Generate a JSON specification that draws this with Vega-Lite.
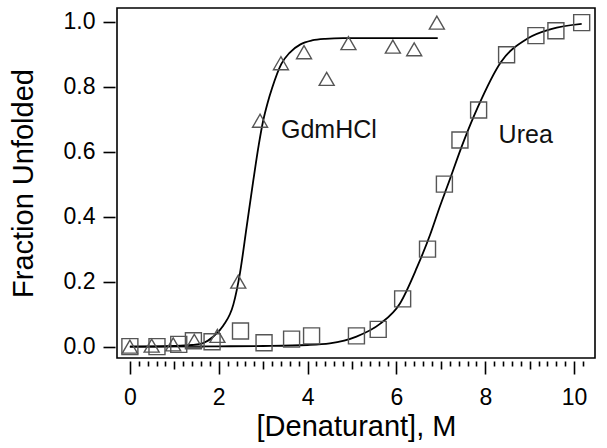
{
  "$schema": "https://vega.github.io/schema/vega-lite/v6.json",
  "width": 478,
  "height": 350,
  "autosize": {"type": "none"},
  "padding": {"left": 117, "top": 8, "right": 12, "bottom": 90},
  "background": "white",
  "config": {
    "view": {"stroke": "black", "strokeWidth": 1.6},
    "axis": {
      "grid": false,
      "domain": false,
      "tickColor": "black",
      "tickWidth": 1.6,
      "labelFont": "Liberation Sans",
      "labelFontSize": 23,
      "labelColor": "black",
      "titleFont": "Liberation Sans",
      "titleFontSize": 29,
      "titleFontWeight": "normal",
      "titleColor": "black"
    }
  },
  "datasets": {
    "points": [
      {"series": "GdmHCl", "conc": 0.0, "frac": 0.0},
      {"series": "GdmHCl", "conc": 0.49, "frac": 0.003},
      {"series": "GdmHCl", "conc": 0.975, "frac": 0.007},
      {"series": "GdmHCl", "conc": 1.45, "frac": 0.018},
      {"series": "GdmHCl", "conc": 1.97, "frac": 0.033},
      {"series": "GdmHCl", "conc": 2.44, "frac": 0.2},
      {"series": "GdmHCl", "conc": 2.93, "frac": 0.695},
      {"series": "GdmHCl", "conc": 3.4, "frac": 0.872},
      {"series": "GdmHCl", "conc": 3.92, "frac": 0.906},
      {"series": "GdmHCl", "conc": 4.43, "frac": 0.824},
      {"series": "GdmHCl", "conc": 4.92, "frac": 0.934},
      {"series": "GdmHCl", "conc": 5.92, "frac": 0.923},
      {"series": "GdmHCl", "conc": 6.4, "frac": 0.915},
      {"series": "GdmHCl", "conc": 6.91, "frac": 0.997},
      {"series": "Urea", "conc": 0.0, "frac": 0.0},
      {"series": "Urea", "conc": 0.61, "frac": 0.0},
      {"series": "Urea", "conc": 1.1, "frac": 0.007},
      {"series": "Urea", "conc": 1.43, "frac": 0.018},
      {"series": "Urea", "conc": 1.85, "frac": 0.015},
      {"series": "Urea", "conc": 2.49, "frac": 0.048},
      {"series": "Urea", "conc": 3.02, "frac": 0.012},
      {"series": "Urea", "conc": 3.64, "frac": 0.023},
      {"series": "Urea", "conc": 4.09, "frac": 0.033},
      {"series": "Urea", "conc": 5.1, "frac": 0.033},
      {"series": "Urea", "conc": 5.59, "frac": 0.053},
      {"series": "Urea", "conc": 6.14, "frac": 0.147},
      {"series": "Urea", "conc": 6.7, "frac": 0.3},
      {"series": "Urea", "conc": 7.08, "frac": 0.5},
      {"series": "Urea", "conc": 7.43, "frac": 0.636},
      {"series": "Urea", "conc": 7.85, "frac": 0.728},
      {"series": "Urea", "conc": 8.48, "frac": 0.898},
      {"series": "Urea", "conc": 9.14, "frac": 0.957},
      {"series": "Urea", "conc": 9.59, "frac": 0.972},
      {"series": "Urea", "conc": 10.17, "frac": 0.997}
    ],
    "curves": [
      {"series": "GdmHCl", "conc": 0.0, "frac": 0.0},
      {"series": "GdmHCl", "conc": 1.0, "frac": 0.002},
      {"series": "GdmHCl", "conc": 1.4, "frac": 0.005},
      {"series": "GdmHCl", "conc": 1.65, "frac": 0.011},
      {"series": "GdmHCl", "conc": 1.88, "frac": 0.031},
      {"series": "GdmHCl", "conc": 2.1, "frac": 0.064},
      {"series": "GdmHCl", "conc": 2.33, "frac": 0.13},
      {"series": "GdmHCl", "conc": 2.48, "frac": 0.228},
      {"series": "GdmHCl", "conc": 2.63, "frac": 0.37},
      {"series": "GdmHCl", "conc": 2.78, "frac": 0.513},
      {"series": "GdmHCl", "conc": 2.9, "frac": 0.62},
      {"series": "GdmHCl", "conc": 3.0, "frac": 0.695},
      {"series": "GdmHCl", "conc": 3.1, "frac": 0.75},
      {"series": "GdmHCl", "conc": 3.2, "frac": 0.795},
      {"series": "GdmHCl", "conc": 3.41, "frac": 0.87},
      {"series": "GdmHCl", "conc": 3.6, "frac": 0.905},
      {"series": "GdmHCl", "conc": 3.84, "frac": 0.93},
      {"series": "GdmHCl", "conc": 4.1, "frac": 0.942},
      {"series": "GdmHCl", "conc": 4.4, "frac": 0.947},
      {"series": "GdmHCl", "conc": 4.8, "frac": 0.949},
      {"series": "GdmHCl", "conc": 6.93, "frac": 0.949},
      {"series": "Urea", "conc": 0.0, "frac": 0.0},
      {"series": "Urea", "conc": 2.0, "frac": 0.001},
      {"series": "Urea", "conc": 3.0, "frac": 0.002},
      {"series": "Urea", "conc": 4.0, "frac": 0.005},
      {"series": "Urea", "conc": 4.5, "frac": 0.01},
      {"series": "Urea", "conc": 5.1, "frac": 0.031},
      {"series": "Urea", "conc": 5.63, "frac": 0.07},
      {"series": "Urea", "conc": 6.08, "frac": 0.133},
      {"series": "Urea", "conc": 6.46, "frac": 0.243},
      {"series": "Urea", "conc": 6.76, "frac": 0.345},
      {"series": "Urea", "conc": 6.98, "frac": 0.432},
      {"series": "Urea", "conc": 7.15, "frac": 0.495},
      {"series": "Urea", "conc": 7.52, "frac": 0.634},
      {"series": "Urea", "conc": 7.83, "frac": 0.736},
      {"series": "Urea", "conc": 8.35, "frac": 0.875},
      {"series": "Urea", "conc": 8.95, "frac": 0.948},
      {"series": "Urea", "conc": 9.48, "frac": 0.977},
      {"series": "Urea", "conc": 10.17, "frac": 0.993}
    ],
    "labels": [
      {"text": "GdmHCl", "conc": 4.48, "frac": 0.667},
      {"text": "Urea", "conc": 8.91, "frac": 0.651}
    ]
  },
  "resolve": {"axis": {"x": "independent", "y": "independent"}},
  "layer": [
    {
      "data": {"name": "curves"},
      "mark": {"type": "line", "color": "black", "strokeWidth": 1.8, "interpolate": "monotone"},
      "encoding": {
        "x": {
          "field": "conc", "type": "quantitative",
          "scale": {"domain": [-0.29, 10.47], "nice": false, "zero": false},
          "axis": {
            "orient": "bottom",
            "title": "[Denaturant], M",
            "values": [0, 2, 4, 6, 8, 10],
            "format": "d",
            "offset": 3,
            "tickSize": 13,
            "labelPadding": 12,
            "titleBaseline": "alphabetic",
            "titleY": 74
          }
        },
        "y": {
          "field": "frac", "type": "quantitative",
          "scale": {"domain": [-0.035, 1.042], "nice": false, "zero": false},
          "axis": {
            "orient": "left",
            "title": "Fraction Unfolded",
            "values": [0, 0.2, 0.4, 0.6, 0.8, 1.0],
            "format": ".1f",
            "offset": 2,
            "tickSize": 12,
            "labelPadding": 8,
            "titleBaseline": "alphabetic",
            "titleX": -83
          }
        },
        "detail": {"field": "series", "type": "nominal"}
      }
    },
    {
      "data": {"name": "points"},
      "transform": [{"filter": "datum.series === 'GdmHCl'"}],
      "mark": {"type": "point", "shape": "triangle-up", "filled": false, "stroke": "#555555", "strokeWidth": 1.4, "size": 225, "opacity": 1},
      "encoding": {
        "x": {
          "field": "conc", "type": "quantitative",
          "scale": {"domain": [-0.29, 10.47], "nice": false, "zero": false},
          "axis": {
            "orient": "bottom",
            "title": null,
            "labels": false,
            "values": [1, 3, 5, 7, 9],
            "offset": 3,
            "tickSize": 8
          }
        },
        "y": {
          "field": "frac", "type": "quantitative",
          "scale": {"domain": [-0.035, 1.042], "nice": false, "zero": false},
          "axis": null
        }
      }
    },
    {
      "data": {"name": "points"},
      "transform": [{"filter": "datum.series === 'Urea'"}],
      "mark": {"type": "point", "shape": "square", "filled": false, "stroke": "#555555", "strokeWidth": 1.4, "size": 256, "opacity": 1},
      "encoding": {
        "x": {
          "field": "conc", "type": "quantitative",
          "scale": {"domain": [-0.29, 10.47], "nice": false, "zero": false},
          "axis": {
            "orient": "bottom",
            "title": null,
            "labels": false,
            "values": [0.2, 0.4, 0.6, 0.8, 1.2, 1.4, 1.6, 1.8, 2.2, 2.4, 2.6, 2.8, 3.2, 3.4, 3.6, 3.8, 4.2, 4.4, 4.6, 4.8, 5.2, 5.4, 5.6, 5.8, 6.2, 6.4, 6.6, 6.8, 7.2, 7.4, 7.6, 7.8, 8.2, 8.4, 8.6, 8.8, 9.2, 9.4, 9.6, 9.8, 10.2],
            "offset": 3,
            "tickSize": 5
          }
        },
        "y": {
          "field": "frac", "type": "quantitative",
          "scale": {"domain": [-0.035, 1.042], "nice": false, "zero": false},
          "axis": null
        }
      }
    },
    {
      "data": {"name": "labels"},
      "mark": {"type": "text", "font": "Liberation Sans", "fontSize": 25, "color": "#111111", "baseline": "middle", "align": "center"},
      "encoding": {
        "x": {
          "field": "conc", "type": "quantitative",
          "scale": {"domain": [-0.29, 10.47], "nice": false, "zero": false},
          "axis": null
        },
        "y": {
          "field": "frac", "type": "quantitative",
          "scale": {"domain": [-0.035, 1.042], "nice": false, "zero": false},
          "axis": null
        },
        "text": {"field": "text", "type": "nominal"}
      }
    }
  ]
}
